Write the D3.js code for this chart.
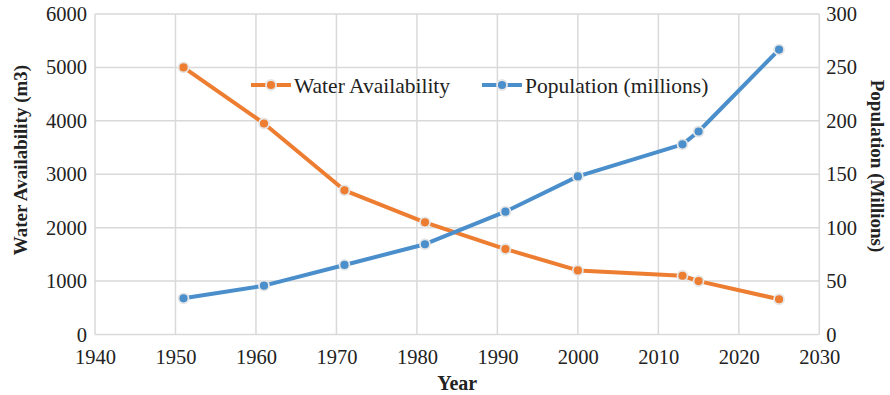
<!DOCTYPE html>
<html>
<head>
<meta charset="utf-8">
<script src="https://cdn.jsdelivr.net/npm/d3@7/dist/d3.min.js"></script>
<style>
  html, body { margin: 0; padding: 0; background: #fff; }
  svg { display: block; font-family: "Liberation Serif", "Times New Roman", serif; }
</style>
</head>
<body>
<svg id="chart" width="890" height="395"></svg>
<script>
// Census / projection years
const years = [1951, 1961, 1971, 1981, 1991, 2000, 2013, 2015, 2025];
// Per-capita water availability (m3)
const waterAvailability = [5000, 3950, 2700, 2100, 1600, 1200, 1100, 1000, 660];
// Population (millions)
const population = [33.9, 45.7, 65.1, 84.5, 115, 148, 178, 190, 266.7];

const xTicks = [1940, 1950, 1960, 1970, 1980, 1990, 2000, 2010, 2020, 2030];
const leftTicks = [0, 1000, 2000, 3000, 4000, 5000, 6000];
const rightTicks = [0, 50, 100, 150, 200, 250, 300];

const ORANGE = "#ED7D31";
const BLUE = "#4A8FCB";
const GRID = "#D9D9D9";

const svg = d3.select("#chart");
const plot = { left: 95, right: 819.3, top: 14, bottom: 334.5 };

const x = d3.scaleLinear().domain([1940, 2030]).range([plot.left, plot.right]);
const yL = d3.scaleLinear().domain([0, 6000]).range([plot.bottom, plot.top]);
const yR = d3.scaleLinear().domain([0, 300]).range([plot.bottom, plot.top]);

// Gridlines (horizontal from the left scale, vertical from the x scale)
const grid = svg.append("g");
grid.selectAll("line.h").data(leftTicks).join("line")
  .attr("x1", plot.left).attr("x2", plot.right)
  .attr("y1", d => yL(d)).attr("y2", d => yL(d))
  .attr("stroke", GRID).attr("stroke-width", 1.5);
grid.selectAll("line.v").data(xTicks).join("line")
  .attr("y1", plot.top).attr("y2", plot.bottom)
  .attr("x1", d => x(d)).attr("x2", d => x(d))
  .attr("stroke", GRID).attr("stroke-width", 1.5);

// Axes: labels only, gridlines provide the frame
const xAxis = svg.append("g")
  .attr("transform", `translate(0,${plot.bottom})`)
  .call(d3.axisBottom(x).tickValues(xTicks).tickFormat(d3.format("d")).tickSize(0).tickPadding(14.5));
const leftAxis = svg.append("g")
  .attr("transform", `translate(${plot.left},0)`)
  .call(d3.axisLeft(yL).tickValues(leftTicks).tickFormat(d3.format("d")).tickSize(0).tickPadding(8));
const rightAxis = svg.append("g")
  .attr("transform", `translate(${plot.right},0)`)
  .call(d3.axisRight(yR).tickValues(rightTicks).tickFormat(d3.format("d")).tickSize(0).tickPadding(7));
[xAxis, leftAxis, rightAxis].forEach(a => {
  a.select(".domain").remove();
  a.selectAll("text").attr("font-size", "20.5px").attr("fill", "#222")
    .attr("font-family", "'Liberation Serif', 'Times New Roman', serif");
});

// Axis titles
svg.append("text")
  .attr("transform", `translate(27,160) rotate(-90)`)
  .attr("text-anchor", "middle")
  .attr("font-size", "19px").attr("font-weight", "bold").attr("fill", "#222")
  .text("Water Availability (m3)");
svg.append("text")
  .attr("transform", `translate(871,166) rotate(90)`)
  .attr("text-anchor", "middle")
  .attr("font-size", "19px").attr("font-weight", "bold").attr("fill", "#222")
  .text("Population (Millions)");
svg.append("text")
  .attr("x", (plot.left + plot.right) / 2).attr("y", 390)
  .attr("text-anchor", "middle")
  .attr("font-size", "20px").attr("font-weight", "bold").attr("fill", "#222")
  .text("Year");

// Series
const series = [
  { name: "Water Availability", values: waterAvailability, y: yL, color: ORANGE },
  { name: "Population (millions)", values: population, y: yR, color: BLUE }
];

series.forEach(s => {
  const pts = years.map((yr, i) => [yr, s.values[i]]);
  const line = d3.line().x(d => x(d[0])).y(d => s.y(d[1]));
  const g = svg.append("g");
  g.append("path").datum(pts)
    .attr("d", line).attr("fill", "none")
    .attr("stroke", s.color).attr("stroke-width", 4)
    .attr("stroke-linejoin", "round").attr("stroke-linecap", "round");
  g.selectAll("circle").data(pts).join("circle")
    .attr("cx", d => x(d[0])).attr("cy", d => s.y(d[1]))
    .attr("r", 5).attr("fill", s.color)
    .attr("stroke", "#E6E6E6").attr("stroke-width", 1.8);
});

// Legend
const legendItems = [
  { name: "Water Availability", color: ORANGE, x0: 251 },
  { name: "Population (millions)", color: BLUE, x0: 482 }
];
const lg = svg.append("g");
legendItems.forEach(it => {
  const ly = 85;
  lg.append("line")
    .attr("x1", it.x0).attr("x2", it.x0 + 40).attr("y1", ly).attr("y2", ly)
    .attr("stroke", it.color).attr("stroke-width", 4);
  lg.append("circle")
    .attr("cx", it.x0 + 20).attr("cy", ly).attr("r", 5)
    .attr("fill", it.color).attr("stroke", "#E6E6E6").attr("stroke-width", 1.8);
  lg.append("text")
    .attr("x", it.x0 + 43).attr("y", ly).attr("dy", "0.35em")
    .attr("font-size", "21.5px").attr("fill", "#222")
    .text(it.name);
});
</script>
</body>
</html>
